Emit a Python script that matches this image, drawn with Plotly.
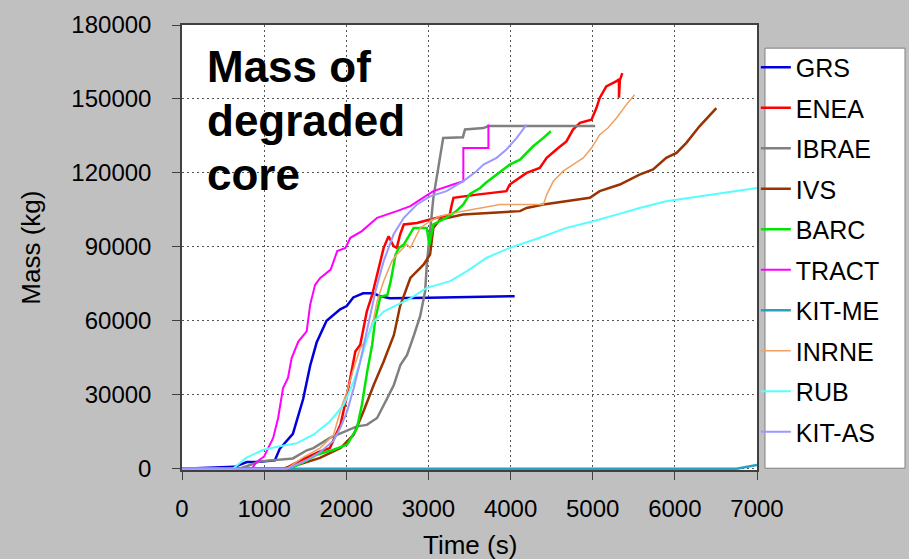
import plotly.graph_objects as go

# time (s) / mass (kg)
names = ['GRS', 'ENEA', 'IBRAE', 'IVS', 'BARC', 'TRACT', 'KIT-ME', 'INRNE', 'RUB', 'KIT-AS']

grs_t = [0, 640, 790, 910, 1130, 1190, 1350, 1475, 1560, 1640, 1760, 1925, 2005, 2085, 2205, 2325, 2410, 2530, 3000, 3500, 4050]
grs_m = [0, 800, 2700, 2700, 3400, 8100, 14200, 28300, 41800, 51300, 60000, 64700, 66000, 69500, 71200, 71200, 70100, 69200, 69400, 69700, 70000]

enea_t = [0, 1250, 1450, 1680, 1800, 1930, 2010, 2070, 2110, 2170, 2210, 2250, 2315, 2375, 2455, 2515, 2575, 2615, 2655, 2700, 2860, 3020,
          3260, 3280, 3305, 3590, 3950, 3990, 4195, 4355, 4440, 4580, 4680, 4760, 4845, 4985, 5045, 5085, 5165, 5290, 5320, 5320, 5330, 5360]
enea_m = [0, 0, 3500, 7000, 8400, 17900, 30000, 40800, 47600, 50300, 57000, 63800, 70500, 78800, 89600, 94300, 90300, 89600, 95000, 99100, 99700, 101100,
          103100, 106500, 109900, 111200, 112600, 115300, 120000, 122000, 126100, 130100, 132800, 137600, 140300, 141600, 146300, 150400, 155100, 157200, 158000, 150500, 157500, 160500]

ibrae_t = [0, 700, 950, 1190, 1350, 1520, 1600, 1800, 2000, 2130, 2250, 2375, 2500, 2580, 2660, 2740, 2825, 2900, 2960, 2980, 3020, 3060,
           3100, 3140, 3180, 3420, 3445, 3670, 3730, 5030]
ibrae_m = [0, 0, 3000, 3800, 4200, 7500, 8400, 12500, 15200, 17200, 17800, 20600, 28700, 34100, 42200, 46200, 54300, 62000, 72000, 82800, 96400, 109900,
           118000, 126000, 134200, 134500, 137600, 138200, 139000, 139000]

ivs_t = [0, 1230, 1440, 1680, 1930, 2090, 2210, 2335, 2455, 2580, 2655, 2780, 2940, 3020, 3060, 3140, 3420, 4115, 4195, 4400, 4965, 5085,
         5330, 5570, 5735, 5895, 6020, 6140, 6300, 6420, 6505]
ivs_m = [0, 0, 1900, 4400, 8400, 13800, 23300, 34100, 43500, 54300, 66000, 77400, 82800, 86900, 97700, 101100, 103100, 104500, 105800, 107200, 109900, 112600,
         115300, 119300, 121400, 126100, 128100, 132200, 138900, 143000, 146300]

barc_t = [0, 1315, 1520, 1640, 1845, 2010, 2130, 2190, 2255, 2315, 2355, 2415, 2500, 2540, 2600, 2640, 2700, 2820, 2980, 3010, 3060, 3220,
          3340, 3425, 3505, 3630, 3700, 3830, 3990, 4115, 4275, 4400, 4490]
barc_m = [0, 0, 3400, 5700, 7700, 9800, 16500, 26000, 39500, 50300, 61100, 69800, 70500, 76000, 86900, 89600, 90900, 97700, 97700, 90900, 99100, 101800,
          104500, 107200, 111500, 113900, 116000, 119300, 123400, 125400, 130800, 134200, 136900]

tract_t = [0, 850, 905, 1000, 1110, 1170, 1230, 1290, 1335, 1416, 1518, 1560, 1620, 1680, 1810, 1890, 1990, 2050, 2190, 2375, 2615, 2780,
           2900, 3060, 3300, 3425, 3425, 3730, 3730]
tract_m = [0, 0, 2700, 5000, 12500, 20600, 32700, 36800, 44900, 51600, 55700, 66500, 74600, 77300, 80800, 88300, 89600, 93700, 96400, 101800, 104500, 106500,
           109200, 112600, 115300, 116600, 130100, 130100, 139600]

kitme_t = [0, 6750, 7000]
kitme_m = [0, 0, 1500]

inrne_t = [0, 1275, 1480, 1680, 1845, 1950, 2010, 2090, 2170, 2255, 2335, 2375, 2455, 2555, 2615, 2735, 2780, 2900, 3020, 3140, 3420, 3870,
           4400, 4440, 4520, 4640, 4760, 4885, 4985, 5085, 5185, 5290, 5410, 5510]
inrne_m = [0, 0, 4700, 8400, 13800, 26000, 31400, 40800, 48900, 53000, 61100, 68000, 76100, 84200, 86900, 91000, 89600, 97700, 100400, 102400, 104500, 107200,
           107200, 111200, 116600, 120700, 123400, 126100, 130100, 135500, 138200, 142300, 147700, 151700]

rub_t = [0, 620, 780, 990, 1190, 1400, 1600, 1800, 1970, 2090, 2170, 2255, 2335, 2455, 2620, 2785, 2980, 3265, 3465, 3710, 3990, 4355,
         4680, 5005, 5290, 5570, 5895, 6300, 6710, 7000]
rub_m = [0, 0, 4400, 7700, 9100, 10400, 13800, 19200, 26000, 35400, 43500, 53000, 59700, 63800, 66500, 69200, 73400, 76100, 80100, 85600, 89600, 93700,
         97700, 100400, 103100, 105800, 108500, 110500, 112600, 113900]

kitas_t = [0, 1275, 1520, 1680, 1845, 1930, 2010, 2090, 2170, 2255, 2315, 2355, 2455, 2575, 2700, 2860, 3020, 3220, 3420, 3585, 3670, 3830,
           3950, 4075, 4195]
kitas_m = [0, 0, 3400, 6700, 11400, 16800, 23300, 32700, 43500, 57000, 67000, 72000, 84200, 95000, 101800, 107200, 110500, 112600, 116600, 120700, 123400, 126100,
           129500, 134200, 139600]

series_t = [grs_t, enea_t, ibrae_t, ivs_t, barc_t, tract_t, kitme_t, inrne_t, rub_t, kitas_t]
series_m = [grs_m, enea_m, ibrae_m, ivs_m, barc_m, tract_m, kitme_m, inrne_m, rub_m, kitas_m]
colors = ['#0000dd', '#ff0000', '#808080', '#993300', '#00e600', '#ff00ff', '#2a9fc0', '#f0a060', '#55ffff', '#9999ff']
widths = [2.5, 2.5, 2.5, 2.5, 2.5, 2, 2.5, 1.5, 2, 2]

title_lines = ['Mass of', 'degraded', 'core']

FONT = 'Arial, Liberation Sans, sans-serif'

fig = go.Figure()
for i, name in enumerate(names):
    fig.add_trace(go.Scatter(
        x=series_t[i], y=series_m[i], mode='lines', name=name,
        legendgroup=name,
        line=dict(color=colors[i], width=widths[i]),
    ))

# legend frame
fig.add_shape(type='rect', xref='paper', yref='paper',
              x0=1.0139, x1=1.2574, y0=0.004, y1=0.948,
              fillcolor='white', line=dict(color='#808080', width=1), layer='above')

for k, txt in enumerate(title_lines):
    fig.add_annotation(text=txt, xref='paper', yref='paper',
                       x=0.04, y=[0.906, 0.786, 0.665][k],
                       xanchor='left', yanchor='middle', showarrow=False,
                       font=dict(family=FONT, size=44, color='black', weight='bold'))

# axis titles
fig.add_annotation(text='Time (s)', xref='paper', yref='paper', x=0.5, y=-0.168,
                   xanchor='center', yanchor='middle', showarrow=False,
                   font=dict(family=FONT, size=26, color='black'))
fig.add_annotation(text='Mass (kg)', xref='paper', yref='paper', x=-0.264, y=0.5,
                   xanchor='center', yanchor='middle', showarrow=False, textangle=-90,
                   font=dict(family=FONT, size=26, color='black'))

axis_common = dict(
    showgrid=True, gridcolor='#555555', gridwidth=1, griddash='2px,3px',
    showline=True, linecolor='#404040', linewidth=1.5, mirror=True,
    ticks='outside', ticklen=8, tickcolor='#404040', tickwidth=1,
    tickfont=dict(family=FONT, size=24, color='black'),
    zeroline=False, automargin=False,
)

fig.update_xaxes(range=[0, 7000], dtick=1000, tickformat='d', ticklabelstandoff=8, **axis_common)
# small negative floor so the zero-level lines sit just above the bottom frame
fig.update_yaxes(range=[-500, 180000], tick0=0, dtick=30000, tickformat='d', ticklabelstandoff=16, **axis_common)

fig.update_layout(
    template='none',
    width=909, height=559, autosize=False,
    margin=dict(l=182, r=152, t=25, b=89, autoexpand=False),
    paper_bgcolor='#c0c0c0', plot_bgcolor='white',
    showlegend=True,
    legend=dict(x=0.998, y=0.956, xanchor='left', yanchor='top',
                bgcolor='rgba(0,0,0,0)', borderwidth=0, tracegroupgap=5,
                font=dict(family=FONT, size=25, color='black')),
)

# the page body has an 8px margin by default; drop it so the figure fills the window
fig.write_html('out.html', config={'displayModeBar': False},
               post_script="document.body.style.margin='0';")
